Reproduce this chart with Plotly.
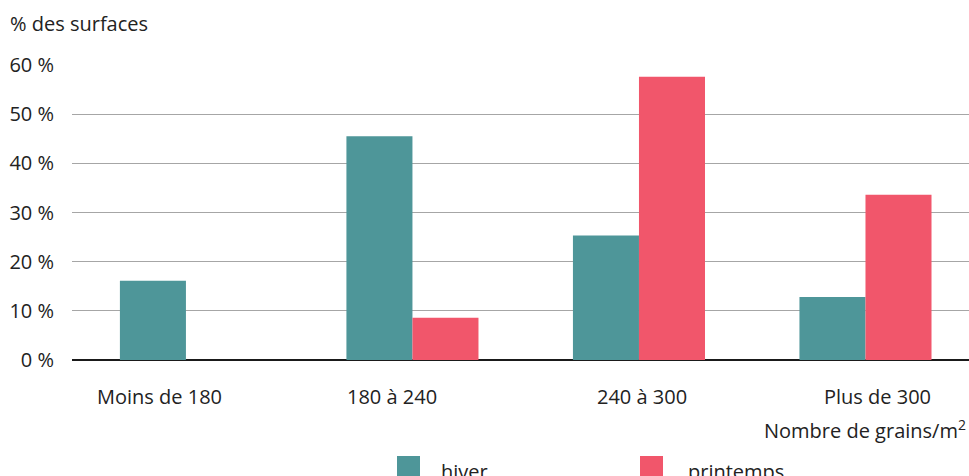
import plotly.graph_objects as go

# Share of surfaces by grain density class, winter vs spring sowing
categories = ["Moins de 180", "180 à 240", "240 à 300", "Plus de 300"]
hiver = [16.1, 45.5, 25.3, 12.8]
printemps = [None, 8.6, 57.6, 33.6]
series_names = ["hiver", "printemps"]
y_ticks = [0, 10, 20, 30, 40, 50, 60]
y_tick_labels = [f"{v} %" for v in y_ticks]

TEAL = "#4E9699"
RED = "#F1566B"
TEXT = "#222222"
FONT = "Open Sans"
FS = 20

W, H = 969, 476
ML, MR, MT, MB = 72, 0, 65, 116
PW, PH = W - ML - MR, H - MT - MB

# horizontal nudge (px) of each category label relative to its bar group
label_nudge = [-26, -20, 3, 12]


def px(x):
    return (x - ML) / PW


def py(y):
    return (H - MB - y) / PH


fig = go.Figure()
xs = list(range(len(categories)))
fig.add_bar(x=xs, y=hiver, name=series_names[0],
            marker=dict(color=TEAL, line=dict(width=0)))
fig.add_bar(x=xs, y=printemps, name=series_names[1],
            marker=dict(color=RED, line=dict(width=0)))

fig.update_layout(
    width=W, height=H,
    margin=dict(l=ML, r=MR, t=MT, b=MB, pad=0),
    plot_bgcolor="white", paper_bgcolor="white",
    barmode="group", bargap=0.417, bargroupgap=0,
    showlegend=False,
    font=dict(family=FONT, size=FS, color=TEXT),
)
fig.update_xaxes(
    tickmode="array", tickvals=xs, ticktext=[""] * len(xs),
    range=[-0.503, 3.457], showgrid=False, zeroline=False,
    showline=False, ticks="",
)
fig.update_yaxes(
    range=[0, 60], tickmode="array", tickvals=y_ticks, ticktext=y_tick_labels,
    showgrid=True, gridcolor="#a6a6a6", gridwidth=1,
    zeroline=True, zerolinecolor="#1a1a1a", zerolinewidth=1.5,
    showline=False, ticks="", ticklabelstandoff=17,
    tickfont=dict(family=FONT, size=FS, color=TEXT),
)

# Category labels under each bar group
for i, (cat, dx) in enumerate(zip(categories, label_nudge)):
    fig.add_annotation(text=cat, xref="x", yref="paper", x=i, y=0,
                       xanchor="center", yanchor="top", xshift=dx, yshift=-21,
                       showarrow=False, font=dict(family=FONT, size=FS, color=TEXT))

# Axis titles
fig.add_annotation(text="% des surfaces", xref="paper", yref="paper",
                   x=px(8), y=py(24), xanchor="left", yanchor="middle",
                   showarrow=False, font=dict(family=FONT, size=FS, color=TEXT))
fig.add_annotation(text="Nombre de grains/m<sup>2</sup>", xref="paper", yref="paper",
                   x=px(968), y=py(429), xanchor="right", yanchor="middle",
                   showarrow=False, font=dict(family=FONT, size=FS, color=TEXT))

# Legend drawn as swatches and labels along the bottom
legend_items = [(series_names[0], TEAL, 397, 439), (series_names[1], RED, 640, 686)]
for label, color, sx, tx in legend_items:
    fig.add_shape(type="rect", xref="paper", yref="paper",
                  x0=px(sx), x1=px(sx + 23), y0=py(456), y1=py(479),
                  fillcolor=color, line=dict(width=0))
    fig.add_annotation(text=label, xref="paper", yref="paper",
                       x=px(tx), y=py(471), xanchor="left", yanchor="middle",
                       showarrow=False, font=dict(family=FONT, size=FS, color=TEXT))

fig.write_html("out.html")
